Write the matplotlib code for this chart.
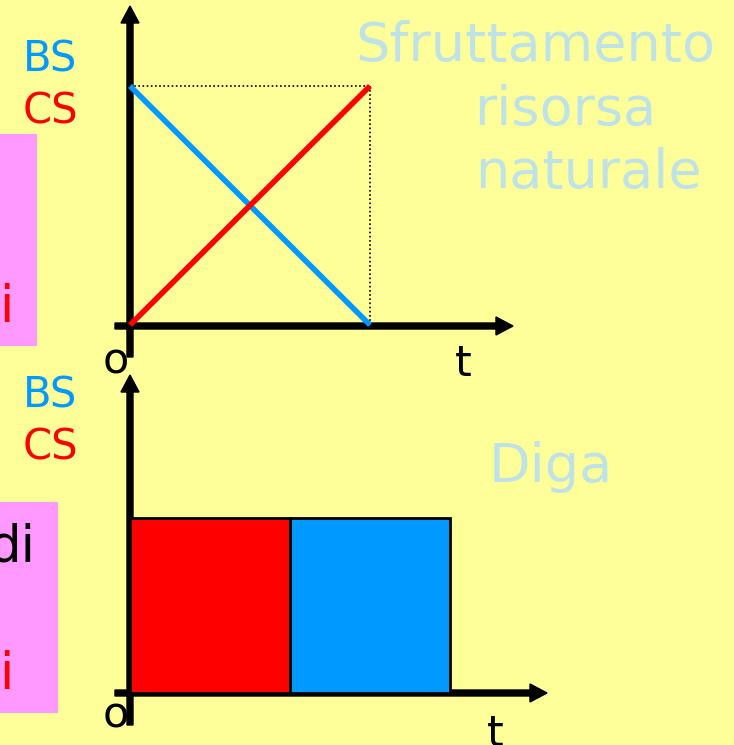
import matplotlib
matplotlib.use("Agg")
import matplotlib.pyplot as plt
from matplotlib.patches import Rectangle

# ---- data ----
t_top = [0, 1]
bs_top = [1, 0]          # benefit to society, resource exploitation
cs_top = [0, 1]          # cost to society
bar_labels = ["CS", "BS"]
bar_left = [0, 1]
bar_width = [1, 1]
bar_height = [1, 1]
bar_colors = ["#FF0000", "#0099FF"]

BG = "#FFFF99"
PINK = "#FF99FF"
BLUE = "#0099FF"
RED = "#FF0000"
LIGHT = "#BFE2E6"
FONT = "DejaVu Sans"

W, H = 734, 745
fig = plt.figure(figsize=(W / 100, H / 100), dpi=100)
fig.patch.set_facecolor(BG)

# background axes in pixel coordinates
bg = fig.add_axes([0, 0, 1, 1])
bg.set_xlim(0, W)
bg.set_ylim(H, 0)
bg.axis("off")

# pink boxes (cut off at left)
bg.add_patch(Rectangle((0, 134), 37, 212, facecolor=PINK, edgecolor="none", zorder=1))
bg.add_patch(Rectangle((0, 502), 58, 211, facecolor=PINK, edgecolor="none", zorder=1))
bg.text(14, 322, "i", color=RED, fontsize=37, family=FONT, ha="right", va="baseline", zorder=2)
bg.text(35, 562, "di", color="black", fontsize=37, family=FONT, ha="right", va="baseline", zorder=2)
bg.text(14, 689, "i", color=RED, fontsize=37, family=FONT, ha="right", va="baseline", zorder=2)

# labels BS / CS
lab = dict(fontsize=30, family=FONT, ha="left", va="baseline")
bg.text(23, 71, "BS", color=BLUE, **lab)
bg.text(23, 123, "CS", color=RED, **lab)
bg.text(23, 407, "BS", color=BLUE, **lab)
bg.text(23, 459, "CS", color=RED, **lab)

# titles
tit = dict(color=LIGHT, fontsize=39, family=FONT, ha="center", va="baseline")
bg.text(535, 61, "Sfruttamento", **tit)
bg.text(565, 125, "risorsa", **tit)
bg.text(588, 188, "naturale", **tit)
bg.text(551, 482, "Diga", **tit)

# axis letters
let = dict(color="black", fontsize=31, family=FONT, ha="center", va="baseline")
bg.text(116, 373, "o", **let)
bg.text(463, 376, "t", **let)
bg.text(116, 727, "o", **let)
bg.text(495, 746, "t", **let)

# axes arrows
akw = dict(width=6, head_width=18, head_length=17, length_includes_head=True,
           color="black", zorder=3)
bg.arrow(130, 357, 0, 6 - 357, **akw)
bg.arrow(115, 326, 513 - 115, 0, **akw)
bg.arrow(130, 725, 0, 375 - 725, **akw)
bg.arrow(115, 693, 547 - 115, 0, **akw)

# ---- top panel: data axes mapped onto pixels ----
x0, y0, sx, sy = 130, 325, 240, 239
ax1 = fig.add_axes([0, 0, 1, 1], facecolor="none")
ax1.set_xlim(-x0 / sx, (W - x0) / sx)
ax1.set_ylim((y0 - H) / sy, y0 / sy)
ax1.axis("off")
ax1.plot([0, 1], [1, 1], color="black", linestyle=(0, (1, 1.5)), linewidth=1.2, zorder=2)
ax1.plot([1, 1], [0, 1], color="black", linestyle=(0, (1, 1.5)), linewidth=1.2, zorder=2)
ax1.plot(t_top, bs_top, color=BLUE, linewidth=4, solid_capstyle="butt", zorder=4)
ax1.plot(t_top, cs_top, color=RED, linewidth=4, solid_capstyle="butt", zorder=5)

# ---- bottom panel ----
x0b, y0b, sxb, syb = 130, 693, 160, 175
ax2 = fig.add_axes([0, 0, 1, 1], facecolor="none")
ax2.set_xlim(-x0b / sxb, (W - x0b) / sxb)
ax2.set_ylim((y0b - H) / syb, y0b / syb)
ax2.axis("off")
ax2.bar(bar_left, bar_height, width=bar_width, align="edge", color=bar_colors,
        edgecolor="black", linewidth=2, zorder=2)

fig.savefig("out.png", dpi=100, facecolor=BG)
